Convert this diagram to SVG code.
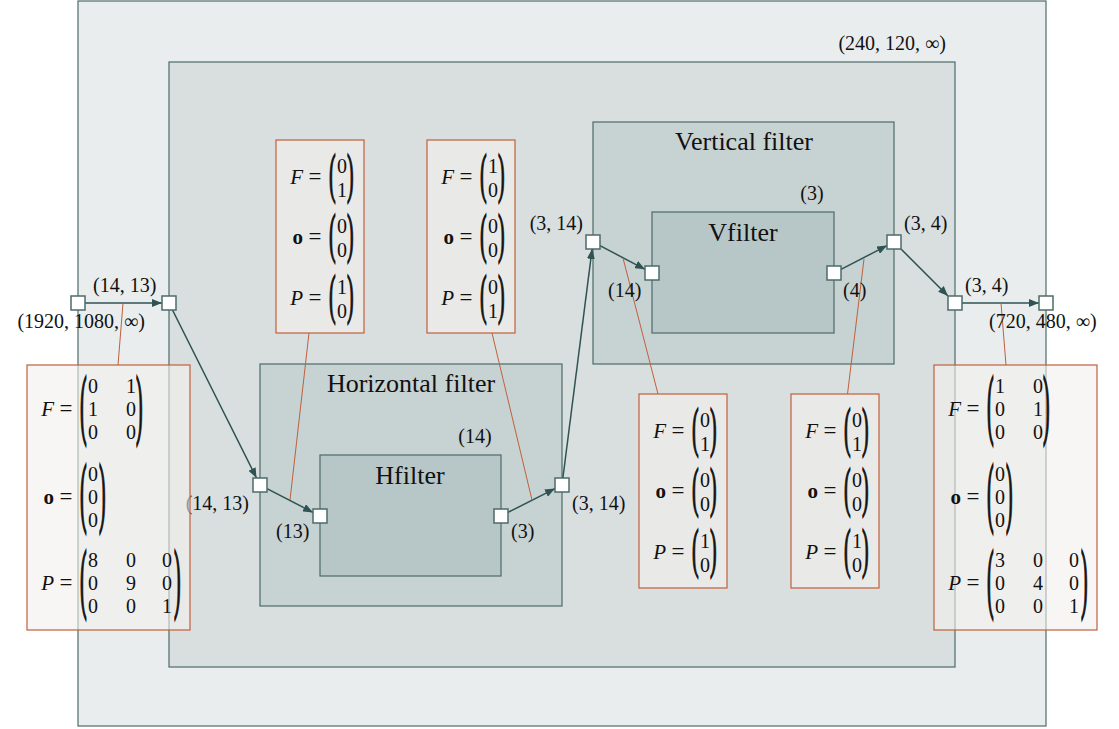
<svg xmlns="http://www.w3.org/2000/svg" width="1119" height="729" viewBox="0 0 1119 729">
<defs>
<style>
.b0{fill:#e9eded;stroke:#4d6b6b;stroke-width:1.2}
.b1{fill:#d9dfdf;stroke:#4d6b6b;stroke-width:1.2}
.b2{fill:#c7d2d2;stroke:#4d6b6b;stroke-width:1.2}
.b3{fill:#b7c6c6;stroke:#4d6b6b;stroke-width:1.2}
.port{fill:#ffffff;stroke:#4d6b6b;stroke-width:1.5}
.arr{stroke:#2f5252;stroke-width:1.5;fill:none;marker-end:url(#ah)}
.ol{stroke:#c0603c;stroke-width:1;fill:none}
.mb{fill:#f3f0ed;fill-opacity:0.6;stroke:#c0603c;stroke-width:1.2}
text{font-family:"Liberation Serif","Times New Roman",serif;font-size:20px;fill:#111}
.t{font-size:26px}
.m{text-anchor:middle}
.e{text-anchor:end}
.i{font-style:italic;font-size:21px}
.bd{font-weight:bold;font-size:21px}
.eq{font-size:23px;text-anchor:middle}
.p{stroke:#111;stroke-width:0.6}
</style>
<marker id="ah" viewBox="0 0 10 8" refX="10" refY="4" markerWidth="10" markerHeight="8" markerUnits="userSpaceOnUse" orient="auto">
<path d="M0,0 L10,4 L0,8 z" fill="#2f5252"/>
</marker>
</defs>

<g id="outer"><rect class="b0" x="78" y="1" width="968" height="725"/></g>
<g id="inner"><rect class="b1" x="169" y="62" width="786" height="605"/></g>
<g id="horizontal-filter"><rect class="b2" x="260" y="364" width="302" height="242"/>
<text class="t m" x="411" y="392">Horizontal filter</text>
<text class="m" x="475" y="443">(14)</text></g>
<g id="hfilter"><rect class="b3" x="320" y="455" width="181" height="121"/>
<text class="t m" x="410" y="484">Hfilter</text></g>
<g id="vertical-filter"><rect class="b2" x="593" y="122" width="301" height="242"/>
<text class="t m" x="744" y="150">Vertical filter</text>
<text class="m" x="812" y="200">(3)</text></g>
<g id="vfilter"><rect class="b3" x="652" y="212" width="182" height="121"/>
<text class="t m" x="743" y="241">Vfilter</text></g>

<g id="connectors">
<line class="arr" x1="85" y1="303" x2="162" y2="303"/>
<line class="arr" x1="172.5" y1="310" x2="256.5" y2="478"/>
<line class="arr" x1="267" y1="488.6" x2="313" y2="512.4"/>
<line class="arr" x1="508" y1="512.4" x2="555" y2="488.6"/>
<line class="arr" x1="562.9" y1="478" x2="592.1" y2="249"/>
<line class="arr" x1="600" y1="245.7" x2="645" y2="269.3"/>
<line class="arr" x1="841" y1="269.4" x2="887" y2="245.6"/>
<line class="arr" x1="901" y1="249" x2="948" y2="296"/>
<line class="arr" x1="962" y1="303" x2="1039" y2="303"/>
<line class="ol" x1="123" y1="303" x2="118" y2="365"/>
<line class="ol" x1="309" y1="333" x2="290" y2="500"/>
<line class="ol" x1="492" y1="333" x2="532" y2="500"/>
<line class="ol" x1="623" y1="258" x2="658" y2="394"/>
<line class="ol" x1="864" y1="259" x2="847.5" y2="394"/>
<line class="ol" x1="1001" y1="303" x2="1006" y2="365"/>
</g>

<g id="ports">
<rect class="port" x="71" y="296" width="14" height="14"/>
<rect class="port" x="162" y="296" width="14" height="14"/>
<rect class="port" x="253" y="478" width="14" height="14"/>
<rect class="port" x="313" y="509" width="14" height="14"/>
<rect class="port" x="494" y="509" width="14" height="14"/>
<rect class="port" x="555" y="478" width="14" height="14"/>
<rect class="port" x="586" y="235" width="14" height="14"/>
<rect class="port" x="645" y="266" width="14" height="14"/>
<rect class="port" x="827" y="266" width="14" height="14"/>
<rect class="port" x="887" y="235" width="14" height="14"/>
<rect class="port" x="948" y="296" width="14" height="14"/>
<rect class="port" x="1039" y="296" width="14" height="14"/>
</g>

<g id="labels">
<text x="93" y="292">(14, 13)</text>
<text class="e" x="145" y="328">(1920, 1080, ∞)</text>
<text class="e" x="946" y="50">(240, 120, ∞)</text>
<text class="e" x="583" y="230">(3, 14)</text>
<text x="608" y="297">(14)</text>
<text x="904" y="230">(3, 4)</text>
<text x="843" y="297">(4)</text>
<text x="965" y="292">(3, 4)</text>
<text x="989" y="328">(720, 480, ∞)</text>
<text class="e" x="249" y="510">(14, 13)</text>
<text x="276" y="538">(13)</text>
<text x="511" y="538">(3)</text>
<text x="572" y="510">(3, 14)</text>
</g>

<g id="matrix-left">
<rect class="mb" x="27" y="365" width="163" height="265"/>
<text class="i e" x="54" y="416">F</text><text class="eq" x="66" y="416">=</text>
<text class="p" transform="translate(80,410) scale(1,3.9)" y="5">(</text>
<text class="m" x="93" y="393">0</text><text class="m" x="131" y="393">1</text>
<text class="m" x="93" y="416">1</text><text class="m" x="131" y="416">0</text>
<text class="m" x="93" y="439">0</text><text class="m" x="131" y="439">0</text>
<text class="p" transform="translate(136,410) scale(1,3.9)" y="5">)</text>
<text class="bd e" x="54" y="504">o</text><text class="eq" x="66" y="504">=</text>
<text class="p" transform="translate(80,498) scale(1,3.9)" y="5">(</text>
<text class="m" x="93" y="481">0</text>
<text class="m" x="93" y="504">0</text>
<text class="m" x="93" y="527">0</text>
<text class="p" transform="translate(99,498) scale(1,3.9)" y="5">)</text>
<text class="i e" x="54" y="590">P</text><text class="eq" x="66" y="590">=</text>
<text class="p" transform="translate(80,584) scale(1,3.9)" y="5">(</text>
<text class="m" x="93" y="567">8</text><text class="m" x="131" y="567">0</text><text class="m" x="167" y="567">0</text>
<text class="m" x="93" y="590">0</text><text class="m" x="131" y="590">9</text><text class="m" x="167" y="590">0</text>
<text class="m" x="93" y="613">0</text><text class="m" x="131" y="613">0</text><text class="m" x="167" y="613">1</text>
<text class="p" transform="translate(174,584) scale(1,3.9)" y="5">)</text>
</g>

<g id="matrix-right">
<rect class="mb" x="934" y="365" width="163" height="265"/>
<text class="i e" x="961" y="416">F</text><text class="eq" x="973" y="416">=</text>
<text class="p" transform="translate(987,410) scale(1,3.9)" y="5">(</text>
<text class="m" x="1000" y="393">1</text><text class="m" x="1038" y="393">0</text>
<text class="m" x="1000" y="416">0</text><text class="m" x="1038" y="416">1</text>
<text class="m" x="1000" y="439">0</text><text class="m" x="1038" y="439">0</text>
<text class="p" transform="translate(1043,410) scale(1,3.9)" y="5">)</text>
<text class="bd e" x="961" y="504">o</text><text class="eq" x="973" y="504">=</text>
<text class="p" transform="translate(987,498) scale(1,3.9)" y="5">(</text>
<text class="m" x="1000" y="481">0</text>
<text class="m" x="1000" y="504">0</text>
<text class="m" x="1000" y="527">0</text>
<text class="p" transform="translate(1006,498) scale(1,3.9)" y="5">)</text>
<text class="i e" x="961" y="590">P</text><text class="eq" x="973" y="590">=</text>
<text class="p" transform="translate(987,584) scale(1,3.9)" y="5">(</text>
<text class="m" x="1000" y="567">3</text><text class="m" x="1038" y="567">0</text><text class="m" x="1074" y="567">0</text>
<text class="m" x="1000" y="590">0</text><text class="m" x="1038" y="590">4</text><text class="m" x="1074" y="590">0</text>
<text class="m" x="1000" y="613">0</text><text class="m" x="1038" y="613">0</text><text class="m" x="1074" y="613">1</text>
<text class="p" transform="translate(1081,584) scale(1,3.9)" y="5">)</text>
</g>

<g id="matrix-1">
<rect class="mb" x="276" y="140" width="88" height="193"/>
<text class="i e" x="303" y="184">F</text><text class="eq" x="315" y="184">=</text>
<text class="p" transform="translate(329,178) scale(1,2.75)" y="5">(</text>
<text class="m" x="342" y="173">0</text><text class="m" x="342" y="197">1</text>
<text class="p" transform="translate(347,178) scale(1,2.75)" y="5">)</text>
<text class="bd e" x="303" y="244">o</text><text class="eq" x="315" y="244">=</text>
<text class="p" transform="translate(329,238) scale(1,2.75)" y="5">(</text>
<text class="m" x="342" y="233">0</text><text class="m" x="342" y="257">0</text>
<text class="p" transform="translate(347,238) scale(1,2.75)" y="5">)</text>
<text class="i e" x="303" y="305">P</text><text class="eq" x="315" y="305">=</text>
<text class="p" transform="translate(329,299) scale(1,2.75)" y="5">(</text>
<text class="m" x="342" y="294">1</text><text class="m" x="342" y="318">0</text>
<text class="p" transform="translate(347,299) scale(1,2.75)" y="5">)</text>
</g>

<g id="matrix-2">
<rect class="mb" x="427" y="140" width="88" height="193"/>
<text class="i e" x="454" y="184">F</text><text class="eq" x="466" y="184">=</text>
<text class="p" transform="translate(480,178) scale(1,2.75)" y="5">(</text>
<text class="m" x="493" y="173">1</text><text class="m" x="493" y="197">0</text>
<text class="p" transform="translate(498,178) scale(1,2.75)" y="5">)</text>
<text class="bd e" x="454" y="244">o</text><text class="eq" x="466" y="244">=</text>
<text class="p" transform="translate(480,238) scale(1,2.75)" y="5">(</text>
<text class="m" x="493" y="233">0</text><text class="m" x="493" y="257">0</text>
<text class="p" transform="translate(498,238) scale(1,2.75)" y="5">)</text>
<text class="i e" x="454" y="305">P</text><text class="eq" x="466" y="305">=</text>
<text class="p" transform="translate(480,299) scale(1,2.75)" y="5">(</text>
<text class="m" x="493" y="294">0</text><text class="m" x="493" y="318">1</text>
<text class="p" transform="translate(498,299) scale(1,2.75)" y="5">)</text>
</g>

<g id="matrix-3">
<rect class="mb" x="639" y="394" width="88" height="194"/>
<text class="i e" x="666" y="438">F</text><text class="eq" x="678" y="438">=</text>
<text class="p" transform="translate(692,432) scale(1,2.75)" y="5">(</text>
<text class="m" x="705" y="427">0</text><text class="m" x="705" y="451">1</text>
<text class="p" transform="translate(710,432) scale(1,2.75)" y="5">)</text>
<text class="bd e" x="666" y="498">o</text><text class="eq" x="678" y="498">=</text>
<text class="p" transform="translate(692,492) scale(1,2.75)" y="5">(</text>
<text class="m" x="705" y="487">0</text><text class="m" x="705" y="511">0</text>
<text class="p" transform="translate(710,492) scale(1,2.75)" y="5">)</text>
<text class="i e" x="666" y="559">P</text><text class="eq" x="678" y="559">=</text>
<text class="p" transform="translate(692,553) scale(1,2.75)" y="5">(</text>
<text class="m" x="705" y="548">1</text><text class="m" x="705" y="572">0</text>
<text class="p" transform="translate(710,553) scale(1,2.75)" y="5">)</text>
</g>

<g id="matrix-4">
<rect class="mb" x="791" y="394" width="88" height="194"/>
<text class="i e" x="818" y="438">F</text><text class="eq" x="830" y="438">=</text>
<text class="p" transform="translate(844,432) scale(1,2.75)" y="5">(</text>
<text class="m" x="857" y="427">0</text><text class="m" x="857" y="451">1</text>
<text class="p" transform="translate(862,432) scale(1,2.75)" y="5">)</text>
<text class="bd e" x="818" y="498">o</text><text class="eq" x="830" y="498">=</text>
<text class="p" transform="translate(844,492) scale(1,2.75)" y="5">(</text>
<text class="m" x="857" y="487">0</text><text class="m" x="857" y="511">0</text>
<text class="p" transform="translate(862,492) scale(1,2.75)" y="5">)</text>
<text class="i e" x="818" y="559">P</text><text class="eq" x="830" y="559">=</text>
<text class="p" transform="translate(844,553) scale(1,2.75)" y="5">(</text>
<text class="m" x="857" y="548">1</text><text class="m" x="857" y="572">0</text>
<text class="p" transform="translate(862,553) scale(1,2.75)" y="5">)</text>
</g>
</svg>
